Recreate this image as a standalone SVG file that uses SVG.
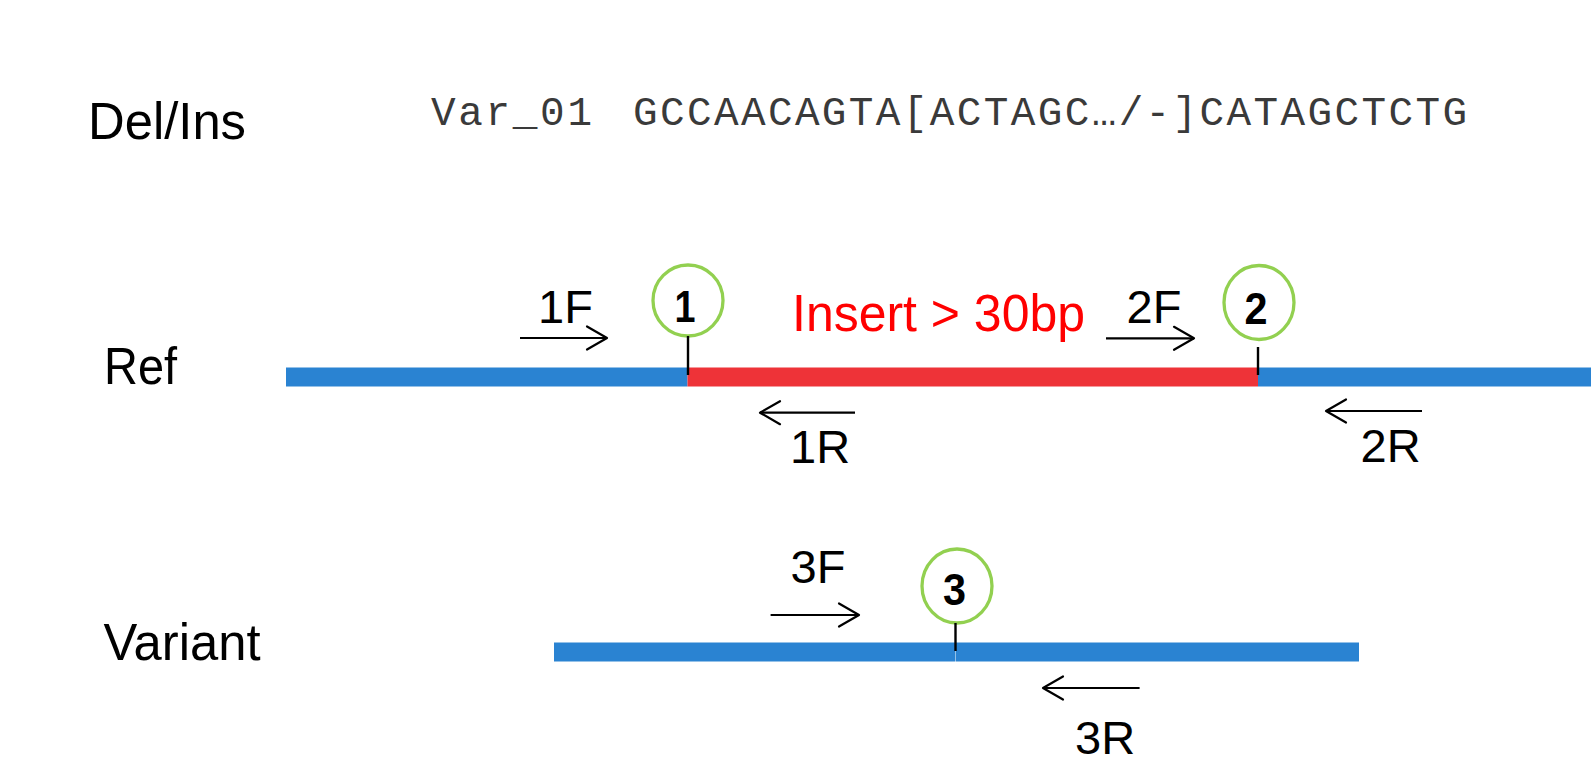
<svg xmlns="http://www.w3.org/2000/svg" width="1591" height="763" viewBox="0 0 1591 763">
  <style>
    .lbl { font-family: "Liberation Sans", Arial, sans-serif; font-size: 52px; fill: #000; }
    .pr { font-family: "Liberation Sans", Arial, sans-serif; font-size: 47px; fill: #000; }
    .seq { font-family: "Liberation Mono", "Courier New", monospace; font-size: 41px; fill: #3a3a3a; }
    .num { font-family: "Liberation Sans", Arial, sans-serif; font-size: 45px; font-weight: bold; fill: #000; text-anchor: middle; }
    .site { fill: none; stroke: #92d050; stroke-width: 3.3; }
    .blue { fill: #2a83d2; }
    .red { fill: #ee3338; }
    .tick { stroke: #000; stroke-width: 2.4; }
    .primer { stroke: #000; stroke-width: 2.2; fill: none; marker-end: url(#chev); }
  </style>
  <defs>
    <marker id="chev" markerUnits="userSpaceOnUse" markerWidth="30" markerHeight="30" viewBox="-25 -15 30 30" refX="0" refY="0" orient="auto" overflow="visible">
      <path d="M-20,-11.5 L0,0 L-20,11.5" fill="none" stroke="#000" stroke-width="2.2" stroke-linejoin="round" stroke-linecap="round"/>
    </marker>
  </defs>
  <rect width="1591" height="763" fill="#fff"/>

  <!-- header: variant name and sequence -->
  <g id="title">
    <text class="lbl" x="88" y="139" textLength="158" lengthAdjust="spacingAndGlyphs">Del/Ins</text>
  </g>
  <g id="sequence">
    <text class="seq" x="431" y="125" textLength="161" lengthAdjust="spacing">Var_01</text>
    <text class="seq" x="633" y="125" textLength="834" lengthAdjust="spacing">GCCAACAGTA[ACTAGC…/-]CATAGCTCTG</text>
  </g>

  <!-- reference allele -->
  <g id="ref-label">
    <text class="lbl" x="104" y="384" textLength="73" lengthAdjust="spacingAndGlyphs">Ref</text>
  </g>
  <g id="ref-bar">
    <rect class="blue" x="286" y="367.5" width="401.5" height="19"/>
    <rect class="red" x="687.5" y="367.5" width="570.5" height="19"/>
    <rect class="blue" x="1258" y="367.5" width="333" height="19"/>
  </g>
  <g id="insert-label">
    <text x="792" y="331" textLength="293" lengthAdjust="spacingAndGlyphs" style="font-family:'Liberation Sans',Arial,sans-serif;font-size:52px;fill:#ff0000">Insert &gt; 30bp</text>
  </g>
  <g id="site-1">
    <ellipse class="site" cx="688" cy="300.5" rx="35" ry="35.5"/>
    <text class="num" x="685" y="322" textLength="21" lengthAdjust="spacingAndGlyphs">1</text>
  </g>
  <g id="site-2">
    <ellipse class="site" cx="1259" cy="302.5" rx="35" ry="37"/>
    <text class="num" x="1256" y="323.5" textLength="23" lengthAdjust="spacingAndGlyphs">2</text>
  </g>

  <!-- variant allele -->
  <g id="variant-label">
    <text class="lbl" x="103.5" y="660" textLength="157" lengthAdjust="spacingAndGlyphs">Variant</text>
  </g>
  <g id="variant-bar">
    <rect class="blue" x="554" y="642.5" width="401.5" height="19"/>
    <rect class="blue" x="956" y="642.5" width="403" height="19"/>
  </g>
  <g id="site-3">
    <ellipse class="site" cx="957" cy="586" rx="35" ry="37"/>
    <text class="num" x="954.5" y="604.5" textLength="23" lengthAdjust="spacingAndGlyphs">3</text>
  </g>

  <!-- primer names -->
  <g id="primer-labels">
    <text class="pr" x="538" y="323">1F</text>
    <text class="pr" x="790" y="463">1R</text>
    <text class="pr" x="1126.5" y="323">2F</text>
    <text class="pr" x="1360.5" y="462">2R</text>
    <text class="pr" x="790.5" y="583">3F</text>
    <text class="pr" x="1075" y="754">3R</text>
  </g>

  <!-- primer arrows and junction ticks -->
  <g id="connectors">
    <line class="tick" x1="688" y1="336" x2="688" y2="375"/>
    <line class="tick" x1="1258" y1="347" x2="1258" y2="375"/>
    <line class="tick" x1="955.5" y1="623" x2="955.5" y2="651"/>
    <line class="primer" x1="520" y1="338" x2="607" y2="338"/>
    <line class="primer" x1="855" y1="412.7" x2="760" y2="412.7"/>
    <line class="primer" x1="1106" y1="338.3" x2="1194" y2="338.3"/>
    <line class="primer" x1="1422" y1="411" x2="1326" y2="411"/>
    <line class="primer" x1="770.6" y1="615" x2="859" y2="615"/>
    <line class="primer" x1="1139.6" y1="688" x2="1043" y2="688"/>
  </g>
</svg>
